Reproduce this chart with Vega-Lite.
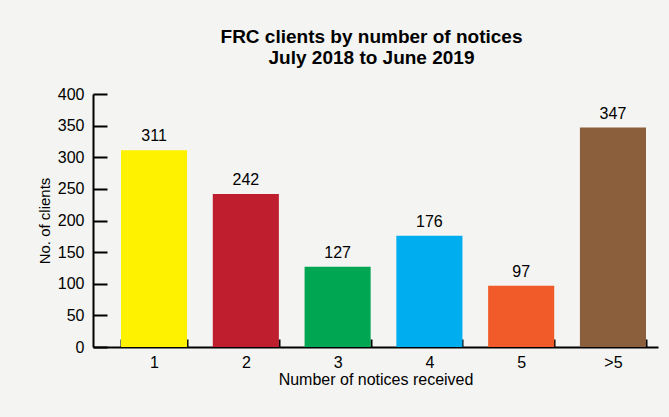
{
  "$schema": "https://vega.github.io/schema/vega-lite/v6.json",
  "width": 565,
  "height": 253,
  "autosize": {"type": "none"},
  "padding": {"left": 93, "top": 94, "right": 11, "bottom": 70},
  "background": "#f4f4f2",
  "config": {"view": {"stroke": null}, "font": "Liberation Sans"},
  "title": {
    "text": ["FRC clients by number of notices", "July 2018 to June 2019"],
    "font": "Liberation Sans",
    "fontSize": 19,
    "fontWeight": "bold",
    "color": "#000000",
    "anchor": "middle",
    "lineHeight": 21,
    "offset": 18,
    "dx": -4
  },
  "data": {
    "values": [
      {"notices": "1", "clients": 311, "color": "#fff200"},
      {"notices": "2", "clients": 242, "color": "#be1e2d"},
      {"notices": "3", "clients": 127, "color": "#00a651"},
      {"notices": "4", "clients": 176, "color": "#00aeef"},
      {"notices": "5", "clients": 97, "color": "#f15a29"},
      {"notices": ">5", "clients": 347, "color": "#8b5e3c"}
    ]
  },
  "encoding": {
    "x": {
      "field": "notices",
      "type": "nominal",
      "sort": null,
      "scale": {"paddingInner": 0.28, "paddingOuter": 0.218, "align": 0.7},
      "axis": {
        "title": "Number of notices received",
        "titleFont": "Liberation Sans",
        "titleFontSize": 16,
        "titleFontWeight": "normal",
        "titleColor": "#000000",
        "titlePadding": 1,
        "labelAngle": 0,
        "labelFont": "Liberation Sans",
        "labelFontSize": 16,
        "labelColor": "#000000",
        "labelPadding": 15,
        "tickBand": "extent",
        "tickSize": -8,
        "tickWidth": 2,
        "tickColor": "#000000",
        "domainColor": "#000000",
        "domainWidth": 2,
        "grid": false
      }
    },
    "y": {
      "field": "clients",
      "type": "quantitative",
      "scale": {"domain": [0, 400]},
      "axis": {
        "title": "No. of clients",
        "titleFont": "Liberation Sans",
        "titleFontSize": 15,
        "titleFontWeight": "normal",
        "titleColor": "#000000",
        "titlePadding": 5,
        "values": [0, 50, 100, 150, 200, 250, 300, 350, 400],
        "labelFont": "Liberation Sans",
        "labelFontSize": 16,
        "labelColor": "#000000",
        "labelPadding": 23,
        "tickSize": -14,
        "tickWidth": 2,
        "tickColor": "#000000",
        "domainColor": "#000000",
        "domainWidth": 2,
        "grid": false
      }
    }
  },
  "layer": [
    {
      "mark": {"type": "bar"},
      "encoding": {
        "color": {"field": "color", "type": "nominal", "scale": null}
      }
    },
    {
      "mark": {"type": "text", "baseline": "alphabetic", "dy": -9, "fontSize": 16, "font": "Liberation Sans", "color": "#000000"},
      "encoding": {"text": {"field": "clients", "type": "quantitative"}}
    }
  ]
}
